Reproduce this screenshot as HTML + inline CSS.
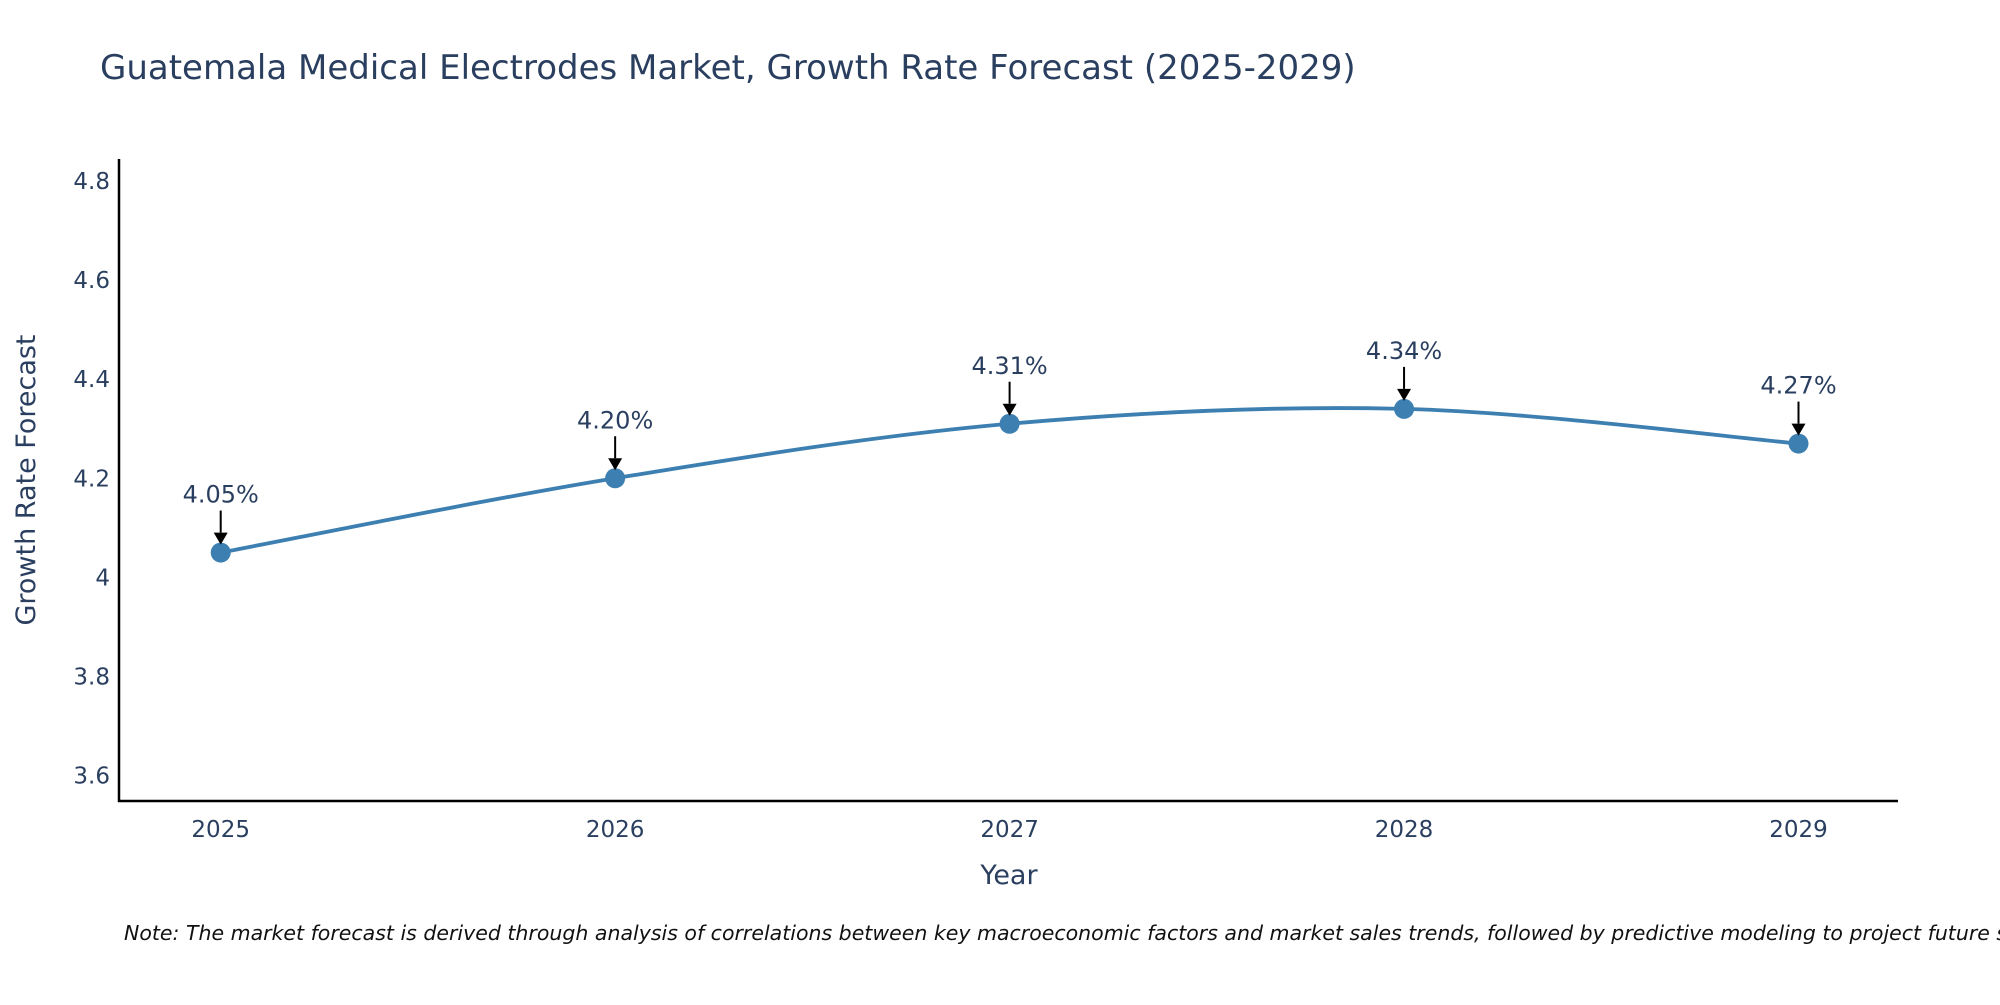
<!DOCTYPE html>
<html><head><meta charset="utf-8"><style>
body{margin:0;background:#fff;}
svg text{font-family:"DejaVu Sans","Liberation Sans",sans-serif;fill:#2a3f5f;}
</style></head><body>
<svg id="chart" width="2000" height="1000" xmlns="http://www.w3.org/2000/svg">
<text x="100" y="79" font-size="34">Guatemala Medical Electrodes Market, Growth Rate Forecast (2025-2029)</text>
<g id="yticks"></g><g id="xticks"></g>
<line x1="119" y1="159" x2="119" y2="802" stroke="#000" stroke-width="2.5"/>
<line x1="118" y1="801" x2="1898" y2="801" stroke="#000" stroke-width="2.5"/>
<text x="1009" y="884" font-size="27" text-anchor="middle">Year</text>
<text transform="translate(35,480) rotate(-90)" font-size="27" text-anchor="middle">Growth Rate Forecast</text>
<g id="series"></g>
<text x="124" y="940" font-size="20.5" font-style="italic" style="fill:#111">Note: The market forecast is derived through analysis of correlations between key macroeconomic factors and market sales trends, followed by predictive modeling to project future sales.</text>
</svg>
<script>
const years=[2025,2026,2027,2028,2029];
const values=[4.05,4.20,4.31,4.34,4.27];
const labels=["4.05%","4.20%","4.31%","4.34%","4.27%"];
const yTicks=[3.6,3.8,4,4.2,4.4,4.6,4.8];
const NS="http://www.w3.org/2000/svg";
const xs=v=>220.7+(v-2025)*(1798.5-220.7)/4;
const ys=v=>775.5-(v-3.6)*(775.5-181)/1.2;
function mk(t,a,p){const e=document.createElementNS(NS,t);for(const k in a)e.setAttribute(k,a[k]);p.appendChild(e);return e;}
const yg=document.getElementById('yticks'),xg=document.getElementById('xticks'),sg=document.getElementById('series');
yTicks.forEach(v=>{const t=mk('text',{x:110,y:ys(v)+8,'font-size':23,'text-anchor':'end'},yg);t.textContent=String(v);

});
years.forEach(v=>{const t=mk('text',{x:xs(v),y:837,'font-size':23,'text-anchor':'middle'},xg);t.textContent=String(v);

});
const P=years.map((y,i)=>[xs(y),ys(values[i])]);
let d=`M${P[0][0]},${P[0][1]}`;
for(let i=0;i<P.length-1;i++){const p0=P[i-1]||P[i],p1=P[i],p2=P[i+1],p3=P[i+2]||P[i+1];
d+=` C${p1[0]+(p2[0]-p0[0])/6},${p1[1]+(p2[1]-p0[1])/6} ${p2[0]-(p3[0]-p1[0])/6},${p2[1]-(p3[1]-p1[1])/6} ${p2[0]},${p2[1]}`;}
const line=mk('path',{d:d,fill:'none',stroke:'#3d7fb1','stroke-width':3.8},sg);


P.forEach((p,i)=>{
const c=mk('circle',{cx:p[0],cy:p[1],r:10,fill:'#3d7fb1'},sg);


const a=mk('line',{x1:p[0],y1:p[1]-42,x2:p[0],y2:p[1]-20,stroke:'#000','stroke-width':2},sg);


const h=mk('polygon',{points:`${p[0]-7},${p[1]-20} ${p[0]+7},${p[1]-20} ${p[0]},${p[1]-8}`,fill:'#000'},sg);


const t=mk('text',{x:p[0],y:p[1]-50,'font-size':24,'text-anchor':'middle'},sg);t.textContent=labels[i];


});
</script>
</body></html>
